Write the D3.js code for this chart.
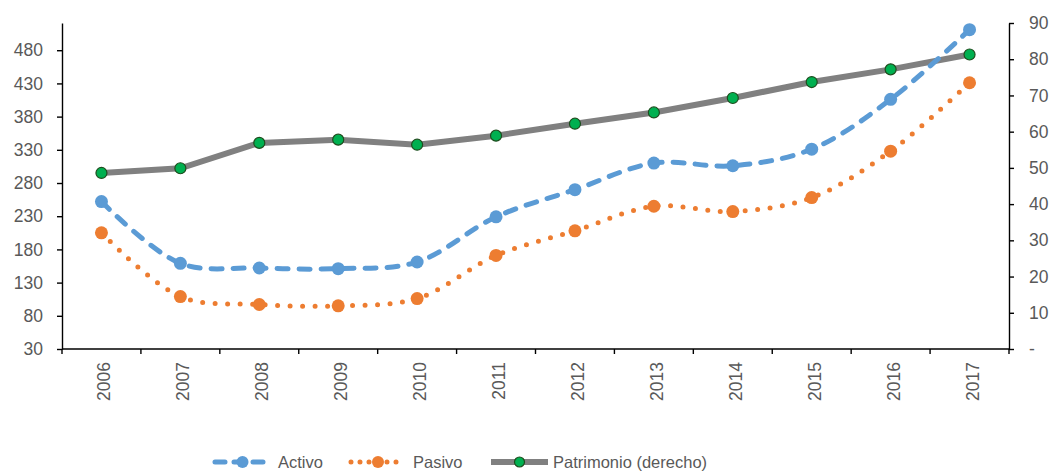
<!DOCTYPE html>
<html>
<head>
<meta charset="utf-8">
<script src="https://cdn.jsdelivr.net/npm/d3@7"></script>
<style>
  body { margin: 0; background: #fff; }
  svg { display: block; font-family: "Liberation Sans", Arial, sans-serif; }
  .tick text { fill: #595959; font-size: 17.5px; }
</style>
</head>
<body>
<svg id="chart" width="1053" height="473"></svg>
<script>
// data
var years = ["2006","2007","2008","2009","2010","2011","2012","2013","2014","2015","2016","2017"];
var activo = [252, 159, 152, 151, 161, 229, 270, 310, 306, 331, 406, 511];
var pasivo = [205, 109, 97, 95, 106, 171, 208, 245, 237, 258, 328, 431];
var patrimonio = [48.6, 49.9, 56.9, 57.8, 56.4, 58.9, 62.2, 65.3, 69.3, 73.7, 77.2, 81.3];
var leftTicks = [30, 80, 130, 180, 230, 280, 330, 380, 430, 480];
var rightTicks = [0, 10, 20, 30, 40, 50, 60, 70, 80, 90];

var svg = d3.select("#chart");
var margin = {top: 23, left: 62, right: 1009, bottom: 349};

var xScale = d3.scaleBand().domain(years).range([margin.left, margin.right]);
var yL = d3.scaleLinear().domain([30, 521]).range([margin.bottom, margin.top]);
var yR = d3.scaleLinear().domain([0, 90]).range([margin.bottom, margin.top]);
var cx = function(i) { return xScale(years[i]) + xScale.bandwidth() / 2; };

// left axis
svg.append("g")
  .attr("transform", "translate(" + margin.left + ",0)")
  .call(d3.axisLeft(yL).tickValues(leftTicks).tickSizeInner(5).tickSizeOuter(0).tickPadding(14))
  .call(function(g) { g.selectAll("line,path").attr("stroke", "#000").attr("stroke-width", 1.4); });

// right axis
svg.append("g")
  .attr("transform", "translate(" + margin.right + ",0)")
  .call(d3.axisRight(yR).tickValues(rightTicks).tickSizeInner(5).tickSizeOuter(0).tickPadding(15)
    .tickFormat(function(d) { return d === 0 ? "-" : d; }))
  .call(function(g) { g.selectAll("line,path").attr("stroke", "#000").attr("stroke-width", 1.4); });

// x axis, ticks between categories
var xg = svg.append("g");
xg.append("line")
  .attr("x1", margin.left).attr("x2", margin.right)
  .attr("y1", margin.bottom).attr("y2", margin.bottom)
  .attr("stroke", "#000").attr("stroke-width", 1.4);
var bounds = years.map(function(d) { return xScale(d); }).concat([margin.right]);
xg.selectAll(".xt").data(bounds).enter().append("line")
  .attr("x1", function(d) { return d; }).attr("x2", function(d) { return d; })
  .attr("y1", margin.bottom).attr("y2", margin.bottom + 5)
  .attr("stroke", "#000").attr("stroke-width", 1.4);
xg.selectAll(".xl").data(years).enter().append("text")
  .attr("transform", function(d, i) { return "translate(" + (cx(i) + 9) + "," + (margin.bottom + 13) + ")rotate(-90)"; })
  .attr("text-anchor", "end")
  .attr("fill", "#595959")
  .style("font-size", "17.5px")
  .text(function(d) { return d; });

// lines
var smooth = d3.line()
  .x(function(d, i) { return cx(i); })
  .y(function(d) { return yL(d); })
  .curve(d3.curveCatmullRom.alpha(0.5));

var straight = d3.line()
  .x(function(d, i) { return cx(i); })
  .y(function(d) { return yR(d); });

svg.append("path")
  .datum(patrimonio)
  .attr("fill", "none")
  .attr("stroke", "#808080")
  .attr("stroke-width", 6)
  .attr("d", straight);

svg.append("path")
  .datum(pasivo)
  .attr("fill", "none")
  .attr("stroke", "#ED7D31")
  .attr("stroke-width", 5)
  .attr("stroke-linecap", "round")
  .attr("stroke-dasharray", "0,12.5")
  .attr("d", smooth);

svg.append("path")
  .datum(activo)
  .attr("fill", "none")
  .attr("stroke", "#5B9BD5")
  .attr("stroke-width", 5)
  .attr("stroke-linecap", "round")
  .attr("stroke-dasharray", "11,11")
  .attr("d", smooth);

// markers
svg.selectAll(".mp").data(pasivo).enter().append("circle")
  .attr("cx", function(d, i) { return cx(i); })
  .attr("cy", function(d) { return yL(d); })
  .attr("r", 6.5).attr("fill", "#ED7D31");

svg.selectAll(".ma").data(activo).enter().append("circle")
  .attr("cx", function(d, i) { return cx(i); })
  .attr("cy", function(d) { return yL(d); })
  .attr("r", 6.5).attr("fill", "#5B9BD5");

svg.selectAll(".mq").data(patrimonio).enter().append("circle")
  .attr("cx", function(d, i) { return cx(i); })
  .attr("cy", function(d) { return yR(d); })
  .attr("r", 5.5).attr("fill", "#00B050")
  .attr("stroke", "#1E4D1E").attr("stroke-width", 1.2);

// legend
var ly = 462;
var legend = [
  {name: "Activo", color: "#5B9BD5", x1: 215, x2: 270, dash: "10,9", width: 5, r: 6, tx: 278},
  {name: "Pasivo", color: "#ED7D31", x1: 351, x2: 405, dash: "0,9", width: 5, r: 6, tx: 413},
  {name: "Patrimonio (derecho)", color: "#808080", x1: 491, x2: 548, dash: null, width: 6, r: 5, tx: 553}
];
var lg = svg.append("g");
legend.forEach(function(l, i) {
  lg.append("line")
    .attr("x1", l.x1).attr("x2", l.x2).attr("y1", ly).attr("y2", ly)
    .attr("stroke", l.color).attr("stroke-width", l.width)
    .attr("stroke-linecap", l.dash ? "round" : "butt")
    .attr("stroke-dasharray", l.dash);
  var c = lg.append("circle")
    .attr("cx", (l.x1 + l.x2) / 2).attr("cy", ly).attr("r", l.r);
  if (i === 2) c.attr("fill", "#00B050").attr("stroke", "#1E4D1E").attr("stroke-width", 1.2);
  else c.attr("fill", l.color);
  lg.append("text")
    .attr("x", l.tx).attr("y", ly + 6)
    .attr("fill", "#595959")
    .style("font-size", "16.5px")
    .text(l.name);
});
</script>
</body>
</html>
